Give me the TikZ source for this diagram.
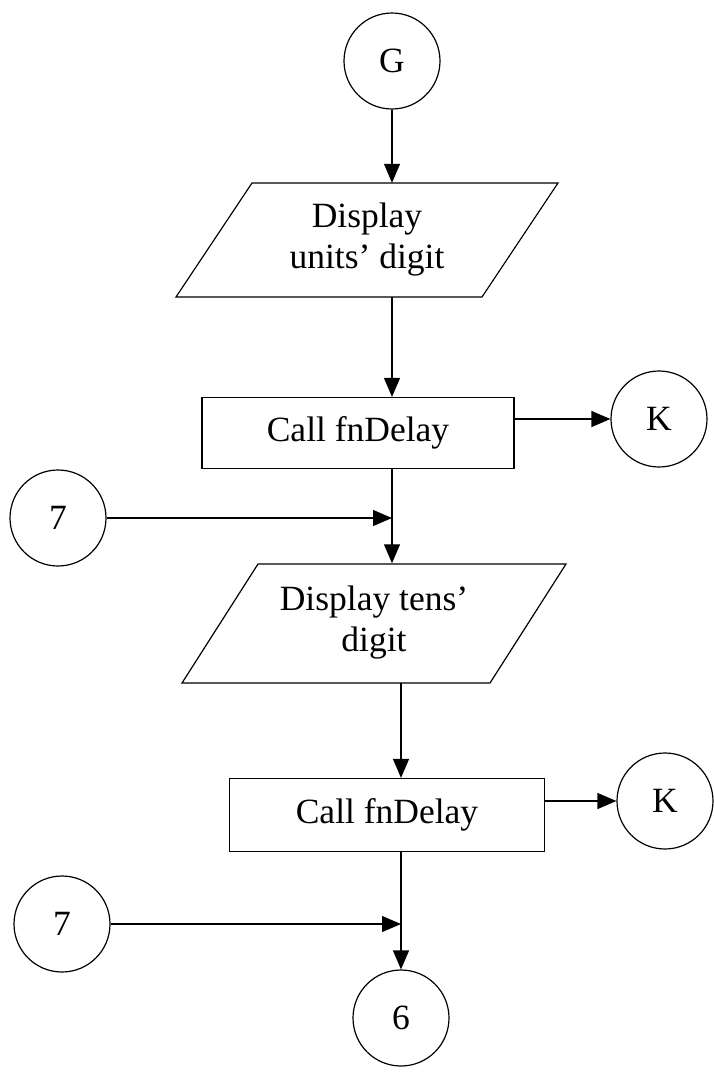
\documentclass[tikz,border=0pt]{standalone}
\usepackage{fontspec}
\setmainfont{Liberation Serif}
\usetikzlibrary{arrows.meta}

\tikzset{
  base/.style={font=\fontsize{35.5}{41}\selectfont, align=center, inner sep=0pt},
  conn/.style={base, draw, circle, line width=1.2pt, minimum size=96pt},
  proc/.style={base, draw, rectangle, line width=1.2pt},
  paratext/.style={base, minimum width=230pt},
  paraline/.style={line width=1.2pt, line join=miter},
  arr/.style={line width=1.2pt, -{Triangle[length=19pt,width=16pt]}},
}

\begin{document}
\begin{tikzpicture}[x=1pt,y=-1pt]
\useasboundingbox (0,0) rectangle (714,1074);

% connectors and process steps
\node[conn] (G) at (392,61) {G};

\node[paratext, minimum height=114pt] (P1) at (367,240) {Display\\units’ digit};
\draw[paraline] (P1.center) ++(-191,57) -- ++(306,0) -- ++(76,-114) -- ++(-306,0) -- cycle;

\node[proc, minimum width=312pt, minimum height=71pt] (B1) at (358,433) {Call fnDelay};
\node[conn] (K1) at (659,419) {K};
\node[conn] (S1) at (58,518) {7};

\node[paratext, minimum height=119pt] (P2) at (374,623) {Display tens’\\digit};
\draw[paraline] (P2.center) ++(-192,60) -- ++(308,0) -- ++(76,-119) -- ++(-308,0) -- cycle;

\node[proc, minimum width=315pt, minimum height=73pt] (B2) at (387,815) {Call fnDelay};
\node[conn] (K2) at (665,801) {K};
\node[conn] (S2) at (62,924) {7};
\node[conn] (C6) at (401,1018) {6};

% flow lines
\draw[arr] (G) -- (G |- P1.north);
\draw[arr] (P1.south -| G) -- (B1.north -| G);
\draw[arr] (B1.east |- K1) -- (K1);
\draw[arr] (B1.south -| G) -- (P2.north -| G);
\draw[arr] (S1) -- (S1 -| G);

\draw[arr] (P2.south -| C6) -- (B2.north -| C6);
\draw[arr] (B2.east |- K2) -- (K2);
\draw[arr] (B2.south -| C6) -- (C6);
\draw[arr] (S2) -- (S2 -| C6);
\end{tikzpicture}
\end{document}
